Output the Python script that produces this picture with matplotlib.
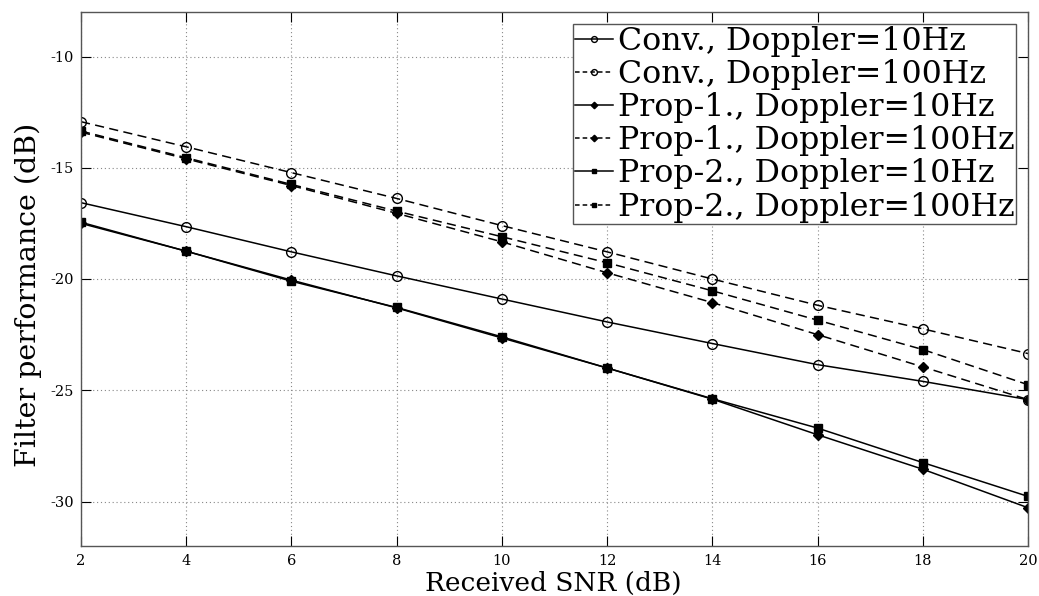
import matplotlib
matplotlib.use("Agg")
import matplotlib.pyplot as plt
import numpy as np

snr = [2, 4, 6, 8, 10, 12, 14, 16, 18, 20]

conv_10 = [-16.57, -17.65, -18.78, -19.86, -20.9, -21.93, -22.9, -23.85, -24.6, -25.42]
conv_100 = [-12.93, -14.06, -15.22, -16.38, -17.6, -18.78, -20.0, -21.18, -22.24, -23.35]
prop1_10 = [-17.5, -18.75, -20.05, -21.3, -22.65, -24.0, -25.4, -27.0, -28.55, -30.28]
prop1_100 = [-13.4, -14.6, -15.8, -17.05, -18.33, -19.72, -21.06, -22.5, -23.95, -25.42]
prop2_10 = [-17.45, -18.75, -20.1, -21.28, -22.6, -24.0, -25.38, -26.7, -28.25, -29.77]
prop2_100 = [-13.35, -14.55, -15.75, -16.95, -18.1, -19.27, -20.53, -21.85, -23.17, -24.75]

labels = [
    "Conv., Doppler=10Hz",
    "Conv., Doppler=100Hz",
    "Prop-1., Doppler=10Hz",
    "Prop-1., Doppler=100Hz",
    "Prop-2., Doppler=10Hz",
    "Prop-2., Doppler=100Hz",
]

x_ticks = [2, 4, 6, 8, 10, 12, 14, 16, 18, 20]
y_ticks = [-30, -25, -20, -15, -10]

plt.rcParams["font.family"] = ["DejaVu Serif"]
plt.rcParams["axes.unicode_minus"] = False

fig = plt.figure(figsize=(10.39, 5.96), dpi=100)
ax = fig.add_axes([81 / 1039, 1 - 546 / 596, (1028 - 81) / 1039, (546 - 12) / 596])

dashed = (0, (6, 3.5))
series = [
    (conv_10, "-", "o", "none"),
    (conv_100, dashed, "o", "none"),
    (prop1_10, "-", "D", "black"),
    (prop1_100, dashed, "D", "black"),
    (prop2_10, "-", "s", "black"),
    (prop2_100, dashed, "s", "black"),
]

for (vals, ls, mk, fc), lab in zip(series, labels):
    ms = 7 if mk == "o" else (5.5 if mk == "D" else 6)
    ax.plot(snr, vals, linestyle=ls, color="black", linewidth=1.1,
            marker=mk, markersize=ms, markerfacecolor=fc,
            markeredgecolor="black", markeredgewidth=1.0, label=lab)

ax.set_xlim(2, 20)
ax.set_ylim(-32, -8)
ax.set_xticks(x_ticks)
ax.set_yticks(y_ticks)
ax.tick_params(direction="in", top=True, right=True, labelsize=10.5,
               length=7, width=0.8)
ax.tick_params(axis="x", pad=6)
ax.tick_params(axis="y", pad=5)
ax.grid(True, linestyle=(0, (1, 2.5)), color="#888888", linewidth=0.8)
for s in ax.spines.values():
    s.set_color("#555555")
    s.set_linewidth(1.0)

ax.set_xlabel("Received SNR (dB)", fontsize=19, va="top")
ax.xaxis.set_label_coords(0.4985, -0.047)
ax.set_ylabel("Filter performance (dB)", fontsize=20.5, va="center")
ax.yaxis.set_label_coords(-0.056, 0.47)

leg = ax.legend(loc="upper right", fontsize=22.8, handlelength=1.2,
                handletextpad=0.16, borderpad=0.05, labelspacing=0.07,
                borderaxespad=0.38, fancybox=False, framealpha=1,
                edgecolor="#555555", markerscale=0.6)
leg.get_frame().set_linewidth(1.0)
for h in leg.get_lines():
    if h.get_linestyle() == "--":
        h.set_dashes((3, 2))

fig.savefig("out.png", dpi=100)
